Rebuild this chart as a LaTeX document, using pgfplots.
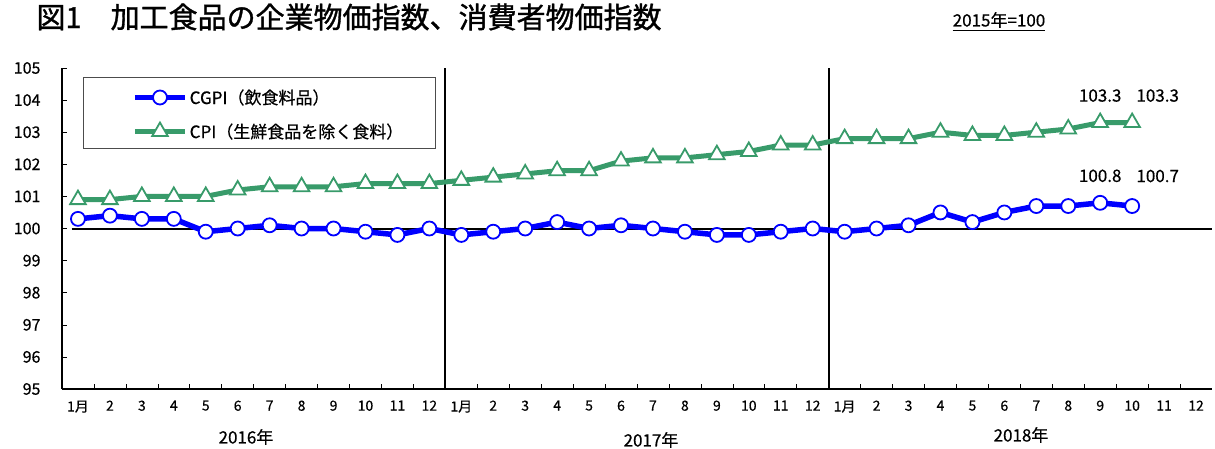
\documentclass[border=0pt]{standalone}
\usepackage{pgfplots}
\pgfplotsset{compat=1.18}
\usepackage{fontspec}
\setmainfont{Noto Sans CJK JP}[FakeBold=0.5]
\newfontfamily\titlefont{Noto Sans CJK JP}[FakeBold=1.2]
\definecolor{cgpiblue}{RGB}{0,0,255}
\definecolor{cpigreen}{RGB}{56,155,106}

\begin{document}
\begin{tikzpicture}[x=1pt,y=1pt]
\useasboundingbox (0,0) rectangle (1215,448);

% title and base note
\node[anchor=west,font=\titlefont\fontsize{29}{32}\selectfont] at (33,431) {図1　加工食品の企業物価指数、消費者物価指数};
\node[font=\fontsize{17}{20}\selectfont,inner sep=0pt] (base) at (999,428) {2015年=100};
\draw[line width=1pt] ([yshift=-2pt]base.south west) -- ([yshift=-2pt]base.south east);

\begin{axis}[
    at={(62pt,59pt)}, anchor=south west,
    scale only axis, width=1150pt, height=321pt,
    xmin=0.5, xmax=36.5, ymin=95, ymax=105,
    axis x line*=bottom, axis y line*=left,
    axis line style={-, line width=1.2pt},
    tick align=inside,
    major tick length=5pt, minor tick length=5pt,
    ytick={95,96,...,105},
    xtick={1,...,36},
    xticklabels={1月,2,3,4,5,6,7,8,9,10,11,12,1月,2,3,4,5,6,7,8,9,10,11,12,1月,2,3,4,5,6,7,8,9,10,11,12},
    minor xtick={1.5,2.5,...,35.5},
    major x tick style={draw=none},
    tick style={black, line width=0.6pt},
    /pgf/number format/assume math mode=true,
    yticklabel style={font=\fontsize{16}{18}\selectfont, xshift=-18pt},
    xticklabel style={font=\fontsize{14}{16}\selectfont, yshift=-8pt},
    clip=false,
    legend style={at={(0.0609,0.94)}, anchor=north west, draw=none, fill=none,
        font=\fontsize{17}{19}\selectfont, row sep=14pt, inner sep=0pt},
    legend cell align=left,
    legend image code/.code={\draw[mark repeat=2,mark phase=2,#1] plot coordinates {(0pt,0pt) (25pt,0pt) (50pt,0pt)};},
]
% reference lines
\draw[black, line width=2pt] (axis cs:12.5,95) -- (axis cs:12.5,105);
\draw[black, line width=2pt] (axis cs:24.5,95) -- (axis cs:24.5,105);
\draw[black, line width=2pt] (axis cs:0.8,100) -- (axis cs:36.5,100);
% legend frame
\draw[black!70, line width=0.8pt] (rel axis cs:0.0183,0.972) rectangle (rel axis cs:0.3243,0.751);

\addplot[cgpiblue, line width=5.5pt, mark=*, mark size=7pt,
    mark options={fill=white, draw=cgpiblue, line width=1.8pt}] coordinates {
(1,100.3) (2,100.4) (3,100.3) (4,100.3) (5,99.9) (6,100.0) (7,100.1) (8,100.0) (9,100.0) (10,99.9) (11,99.8) (12,100.0)
(13,99.8) (14,99.9) (15,100.0) (16,100.2) (17,100.0) (18,100.1) (19,100.0) (20,99.9) (21,99.8) (22,99.8) (23,99.9) (24,100.0)
(25,99.9) (26,100.0) (27,100.1) (28,100.5) (29,100.2) (30,100.5) (31,100.7) (32,100.7) (33,100.8) (34,100.7)
};
\addlegendentry{CGPI（飲食料品）}

\addplot[cpigreen, line width=5pt, mark=triangle*, mark size=9pt,
    mark options={fill=white, draw=cpigreen, line width=1.8pt}] coordinates {
(1,100.9) (2,100.9) (3,101.0) (4,101.0) (5,101.0) (6,101.2) (7,101.3) (8,101.3) (9,101.3) (10,101.4) (11,101.4) (12,101.4)
(13,101.5) (14,101.6) (15,101.7) (16,101.8) (17,101.8) (18,102.1) (19,102.2) (20,102.2) (21,102.3) (22,102.4) (23,102.6) (24,102.6)
(25,102.8) (26,102.8) (27,102.8) (28,103.0) (29,102.9) (30,102.9) (31,103.0) (32,103.1) (33,103.3) (34,103.3)
};
\addlegendentry{CPI（生鮮食品を除く食料）}

% value labels
\node[font=\fontsize{17}{19}\selectfont] at (axis cs:33,103.3) [yshift=27pt] {103.3};
\node[font=\fontsize{17}{19}\selectfont] at (axis cs:34.8,103.3) [yshift=27pt] {103.3};
\node[font=\fontsize{17}{19}\selectfont] at (axis cs:33,100.8) [yshift=27pt] {100.8};
\node[font=\fontsize{17}{19}\selectfont] at (axis cs:34.8,100.7) [yshift=30pt] {100.7};
\end{axis}

% year labels
\node[font=\fontsize{17}{20}\selectfont] at (246,11) {2016年};
\node[font=\fontsize{17}{20}\selectfont] at (651,8) {2017年};
\node[font=\fontsize{17}{20}\selectfont] at (1021,13) {2018年};
\end{tikzpicture}
\end{document}
